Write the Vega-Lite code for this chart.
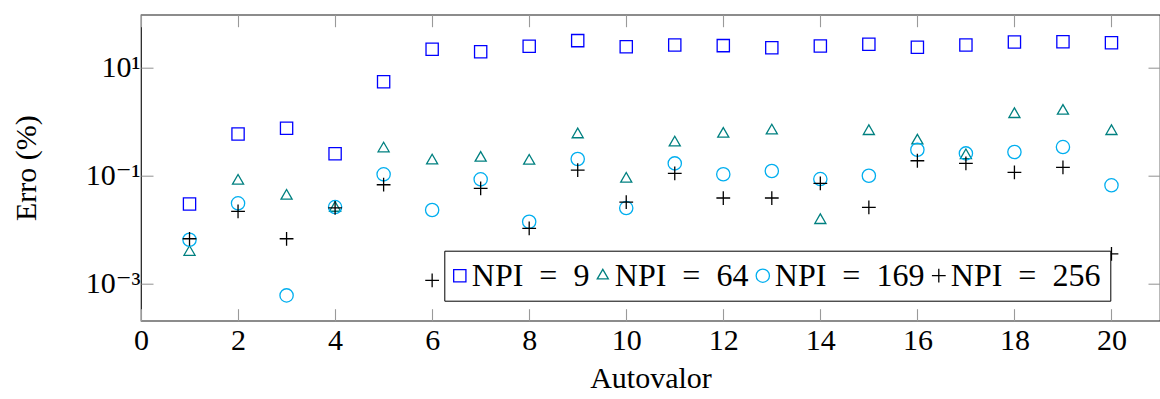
{
  "$schema": "https://vega.github.io/schema/vega-lite/v6.json",
  "width": 1019,
  "height": 306,
  "autosize": {"type": "none"},
  "padding": {"left": 141, "top": 14.7, "right": 0, "bottom": 78.3},
  "background": "white",
  "config": {
    "font": "Liberation Serif, DejaVu Serif, serif",
    "view": {"stroke": "#1a1a1a", "strokeWidth": 1.2},
    "axis": {
      "domain": false,
      "grid": false,
      "tickColor": "#9a9a9a",
      "tickWidth": 1.1,
      "tickSize": -12,
      "labelFlush": false,
      "labelFont": "Liberation Serif, DejaVu Serif, serif",
      "labelFontSize": 30,
      "labelColor": "#000000",
      "titleFont": "Liberation Serif, DejaVu Serif, serif",
      "titleFontSize": 30,
      "titleFontWeight": "normal",
      "titleColor": "#000000"
    },
    "legend": {
      "labelFont": "Liberation Serif, DejaVu Serif, serif"
    }
  },
  "data": {
    "values": [
      {"autovalor": 1, "erro": 0.0297, "serie": "NPI = 9"},
      {"autovalor": 2, "erro": 0.593, "serie": "NPI = 9"},
      {"autovalor": 3, "erro": 0.757, "serie": "NPI = 9"},
      {"autovalor": 4, "erro": 0.255, "serie": "NPI = 9"},
      {"autovalor": 5, "erro": 5.57, "serie": "NPI = 9"},
      {"autovalor": 6, "erro": 22.3, "serie": "NPI = 9"},
      {"autovalor": 7, "erro": 20.1, "serie": "NPI = 9"},
      {"autovalor": 8, "erro": 25.3, "serie": "NPI = 9"},
      {"autovalor": 9, "erro": 32.2, "serie": "NPI = 9"},
      {"autovalor": 10, "erro": 24.9, "serie": "NPI = 9"},
      {"autovalor": 11, "erro": 26.7, "serie": "NPI = 9"},
      {"autovalor": 12, "erro": 26.0, "serie": "NPI = 9"},
      {"autovalor": 13, "erro": 23.8, "serie": "NPI = 9"},
      {"autovalor": 14, "erro": 25.6, "serie": "NPI = 9"},
      {"autovalor": 15, "erro": 27.6, "serie": "NPI = 9"},
      {"autovalor": 16, "erro": 24.3, "serie": "NPI = 9"},
      {"autovalor": 17, "erro": 26.7, "serie": "NPI = 9"},
      {"autovalor": 18, "erro": 30.4, "serie": "NPI = 9"},
      {"autovalor": 19, "erro": 30.8, "serie": "NPI = 9"},
      {"autovalor": 20, "erro": 29.5, "serie": "NPI = 9"},

      {"autovalor": 1, "erro": 0.0038, "serie": "NPI = 64"},
      {"autovalor": 2, "erro": 0.080, "serie": "NPI = 64"},
      {"autovalor": 3, "erro": 0.042, "serie": "NPI = 64"},
      {"autovalor": 4, "erro": 0.025, "serie": "NPI = 64"},
      {"autovalor": 5, "erro": 0.318, "serie": "NPI = 64"},
      {"autovalor": 6, "erro": 0.19, "serie": "NPI = 64"},
      {"autovalor": 7, "erro": 0.213, "serie": "NPI = 64"},
      {"autovalor": 8, "erro": 0.188, "serie": "NPI = 64"},
      {"autovalor": 9, "erro": 0.58, "serie": "NPI = 64"},
      {"autovalor": 10, "erro": 0.087, "serie": "NPI = 64"},
      {"autovalor": 11, "erro": 0.41, "serie": "NPI = 64"},
      {"autovalor": 12, "erro": 0.595, "serie": "NPI = 64"},
      {"autovalor": 13, "erro": 0.685, "serie": "NPI = 64"},
      {"autovalor": 14, "erro": 0.0148, "serie": "NPI = 64"},
      {"autovalor": 15, "erro": 0.667, "serie": "NPI = 64"},
      {"autovalor": 16, "erro": 0.446, "serie": "NPI = 64"},
      {"autovalor": 17, "erro": 0.238, "serie": "NPI = 64"},
      {"autovalor": 18, "erro": 1.38, "serie": "NPI = 64"},
      {"autovalor": 19, "erro": 1.59, "serie": "NPI = 64"},
      {"autovalor": 20, "erro": 0.667, "serie": "NPI = 64"},

      {"autovalor": 1, "erro": 0.00644, "serie": "NPI = 169"},
      {"autovalor": 2, "erro": 0.0306, "serie": "NPI = 169"},
      {"autovalor": 3, "erro": 0.000596, "serie": "NPI = 169"},
      {"autovalor": 4, "erro": 0.0261, "serie": "NPI = 169"},
      {"autovalor": 5, "erro": 0.1057, "serie": "NPI = 169"},
      {"autovalor": 6, "erro": 0.0230, "serie": "NPI = 169"},
      {"autovalor": 7, "erro": 0.0853, "serie": "NPI = 169"},
      {"autovalor": 8, "erro": 0.0139, "serie": "NPI = 169"},
      {"autovalor": 9, "erro": 0.204, "serie": "NPI = 169"},
      {"autovalor": 10, "erro": 0.0250, "serie": "NPI = 169"},
      {"autovalor": 11, "erro": 0.169, "serie": "NPI = 169"},
      {"autovalor": 12, "erro": 0.106, "serie": "NPI = 169"},
      {"autovalor": 13, "erro": 0.122, "serie": "NPI = 169"},
      {"autovalor": 14, "erro": 0.0865, "serie": "NPI = 169"},
      {"autovalor": 15, "erro": 0.0996, "serie": "NPI = 169"},
      {"autovalor": 16, "erro": 0.303, "serie": "NPI = 169"},
      {"autovalor": 17, "erro": 0.259, "serie": "NPI = 169"},
      {"autovalor": 18, "erro": 0.275, "serie": "NPI = 169"},
      {"autovalor": 19, "erro": 0.340, "serie": "NPI = 169"},
      {"autovalor": 20, "erro": 0.0661, "serie": "NPI = 169"},

      {"autovalor": 1, "erro": 0.00672, "serie": "NPI = 256"},
      {"autovalor": 2, "erro": 0.0217, "serie": "NPI = 256"},
      {"autovalor": 3, "erro": 0.00672, "serie": "NPI = 256"},
      {"autovalor": 4, "erro": 0.0253, "serie": "NPI = 256"},
      {"autovalor": 5, "erro": 0.0678, "serie": "NPI = 256"},
      {"autovalor": 6, "erro": 0.00113, "serie": "NPI = 256"},
      {"autovalor": 7, "erro": 0.0581, "serie": "NPI = 256"},
      {"autovalor": 8, "erro": 0.01047, "serie": "NPI = 256"},
      {"autovalor": 9, "erro": 0.127, "serie": "NPI = 256"},
      {"autovalor": 10, "erro": 0.0323, "serie": "NPI = 256"},
      {"autovalor": 11, "erro": 0.110, "serie": "NPI = 256"},
      {"autovalor": 12, "erro": 0.0384, "serie": "NPI = 256"},
      {"autovalor": 13, "erro": 0.0384, "serie": "NPI = 256"},
      {"autovalor": 14, "erro": 0.0720, "serie": "NPI = 256"},
      {"autovalor": 15, "erro": 0.0258, "serie": "NPI = 256"},
      {"autovalor": 16, "erro": 0.189, "serie": "NPI = 256"},
      {"autovalor": 17, "erro": 0.169, "serie": "NPI = 256"},
      {"autovalor": 18, "erro": 0.115, "serie": "NPI = 256"},
      {"autovalor": 19, "erro": 0.143, "serie": "NPI = 256"},
      {"autovalor": 20, "erro": 0.00353, "serie": "NPI = 256"}
    ]
  },
  "layer": [
    {
      "mark": {"type": "point", "filled": false, "strokeWidth": 1.3, "opacity": 1},
      "encoding": {
        "x": {
          "field": "autovalor",
          "type": "quantitative",
          "scale": {"domain": [0, 21], "nice": false, "zero": false},
          "axis": {
            "orient": "bottom",
            "values": [0, 2, 4, 6, 8, 10, 12, 14, 16, 18, 20],
            "labelPadding": 17,
            "title": "Autovalor",
            "titlePadding": 8
          }
        },
        "y": {
          "field": "erro",
          "type": "quantitative",
          "scale": {"type": "log", "domain": [0.000202, 97.7], "nice": false},
          "axis": {
            "orient": "left",
            "values": [0.001, 0.1, 10],
            "labelExpr": "datum.value > 1 ? '10¹' : (datum.value > 0.01 ? '10⁻¹' : '10⁻³')",
            "labelPadding": 13,
            "title": "Erro (%)",
            "titlePadding": 44
          }
        },
        "color": {
          "field": "serie",
          "type": "nominal",
          "scale": {
            "domain": ["NPI = 9", "NPI = 64", "NPI = 169", "NPI = 256"],
            "range": ["#0000ff", "#008080", "#00aeef", "#000000"]
          },
          "legend": {
            "orient": "none",
            "legendX": 303.3,
            "legendY": 236,
            "direction": "horizontal",
            "columns": 4,
            "title": null,
            "strokeColor": "#000000",
            "fillColor": "#ffffff",
            "padding": 9,
            "labelFont": "Liberation Serif, DejaVu Serif, serif",
            "labelFontSize": 32,
            "labelColor": "#000000",
            "labelLimit": 400,
            "symbolOffset": -9.5,
            "labelOffset": -4,
            "columnPadding": 4,
            "symbolStrokeWidth": 1.3,
            "labelExpr": "replace(datum.label, / = /, '\u2002=\u2002')"
          }
        },
        "shape": {
          "field": "serie",
          "type": "nominal",
          "scale": {
            "domain": ["NPI = 9", "NPI = 64", "NPI = 169", "NPI = 256"],
            "range": ["square", "M-0.866,0.5L0,-1L0.866,0.5Z", "circle", "M-1,0L1,0M0,-1L0,1"]
          }
        },
        "size": {
          "field": "serie",
          "type": "nominal",
          "scale": {
            "domain": ["NPI = 9", "NPI = 64", "NPI = 169", "NPI = 256"],
            "range": [150, 190, 120, 144]
          }
        }
      }
    },
    {
      "mark": {"type": "point", "opacity": 0},
      "encoding": {
        "x": {
          "field": "autovalor",
          "type": "quantitative",
          "axis": {"orient": "top", "values": [0, 2, 4, 6, 8, 10, 12, 14, 16, 18, 20], "labels": false, "title": null}
        },
        "y": {
          "field": "erro",
          "type": "quantitative",
          "axis": {"orient": "right", "values": [0.001, 0.1, 10], "labels": false, "title": null}
        }
      }
    }
  ],
  "resolve": {"axis": {"x": "independent", "y": "independent"}}
}
